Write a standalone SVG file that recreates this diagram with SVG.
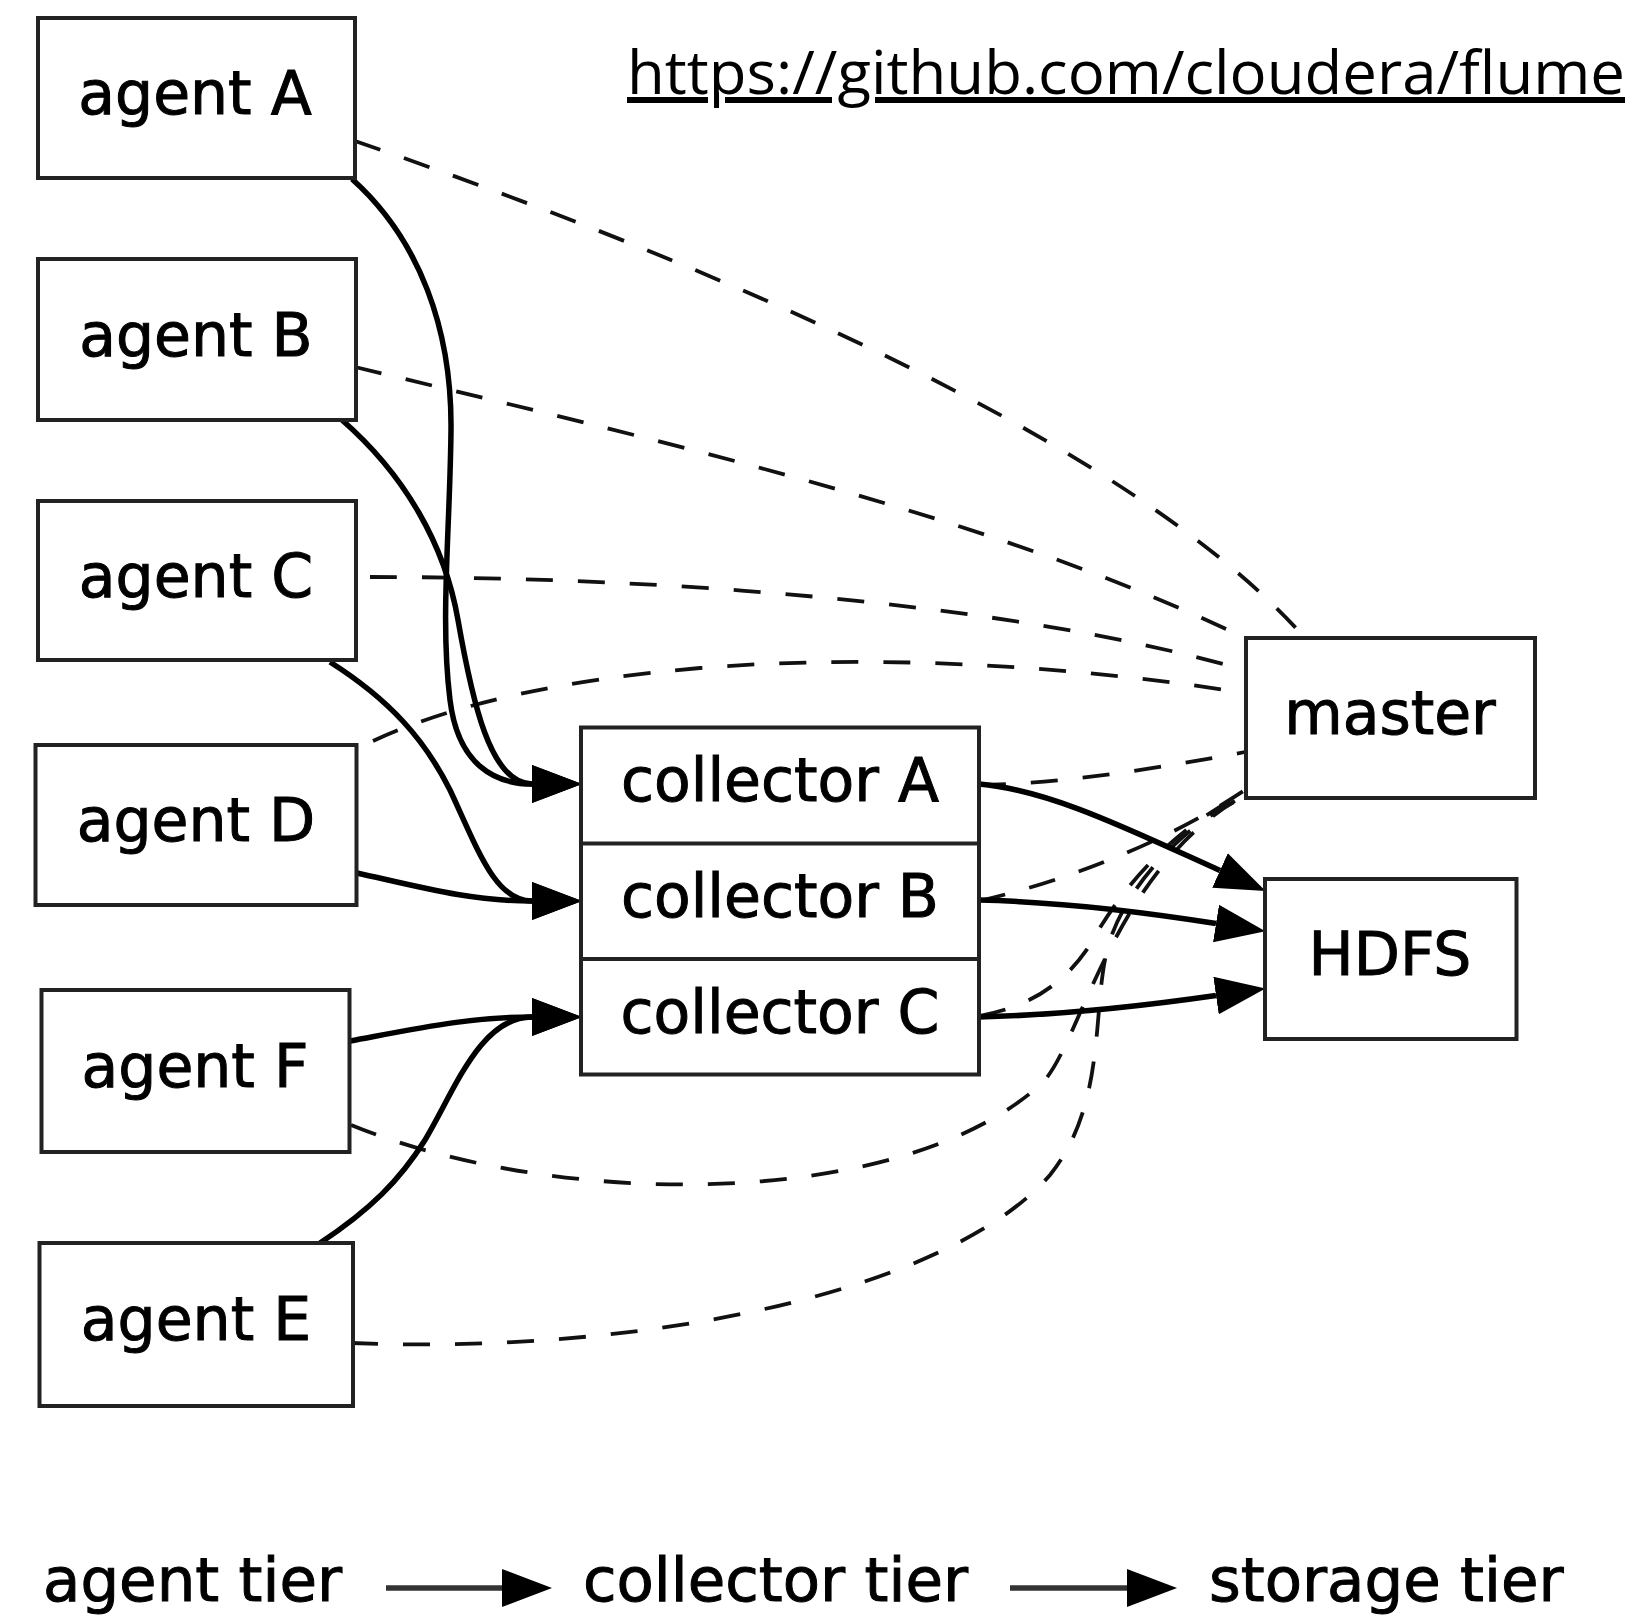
<svg xmlns="http://www.w3.org/2000/svg" width="1637" height="1618" viewBox="0 0 1637 1618">
  <style>
    .box { fill: #ffffff; stroke: #222222; stroke-width: 4; }
    .div { stroke: #222222; stroke-width: 4; }
    .label { font-family: "DejaVu Sans", "Liberation Sans", sans-serif; font-size: 60px; fill: #000; stroke: #000; stroke-width: 1; text-anchor: middle; }
    .legend { font-family: "DejaVu Sans", "Liberation Sans", sans-serif; font-size: 61px; fill: #000; stroke: #000; stroke-width: 1; }
    .flow { fill: none; stroke: #000; stroke-width: 5.5; }
    .ctrl { fill: none; stroke: #111111; stroke-width: 3.8; stroke-dasharray: 27 25; }
    .tier { fill: none; stroke: #333333; stroke-width: 5.5; }
    .url { font-family: "Open Sans", "Liberation Sans", sans-serif; font-size: 60px; fill: #000; }
  </style>
  <defs>
    <marker id="head" markerUnits="userSpaceOnUse" viewBox="0 0 50 38" markerWidth="50" markerHeight="38" refX="0" refY="19" orient="auto">
      <path d="M0,0 L50,19 L0,38 Z" fill="#000"/>
    </marker>
  </defs>

  <rect width="1637" height="1618" fill="#ffffff"/>

  <!-- source link -->
  <text class="url" x="627" y="94" textLength="998" lengthAdjust="spacingAndGlyphs" text-decoration="underline">https://github.com/cloudera/flume</text>

  <!-- connectors: dashed control links to master, solid data flow -->
  <g id="connectors">
    <path class="ctrl" d="M355,141 C 700,260 1130,440 1305,638"/>
    <path class="ctrl" d="M355,367 C 700,450 1000,520 1245,638"/>
    <path class="ctrl" d="M370,577 C 650,577 1000,600 1245,670"/>
    <path class="ctrl" d="M373,741 C 450,705 560,680 700,668 C 900,652 1100,670 1245,693"/>
    <path class="ctrl" d="M979,785 C 1060,784 1160,768 1245,752"/>
    <path class="ctrl" d="M979,901 C 1070,880 1170,840 1245,790"/>
    <path class="ctrl" d="M979,1016 C 1040,1005 1070,975 1090,945 C 1120,890 1170,830 1245,793"/>
    <path class="ctrl" d="M351,1125 C 560,1210 900,1210 1040,1085 C 1080,1050 1110,870 1245,795"/>
    <path class="ctrl" d="M351,1343 C 650,1355 950,1290 1050,1175 C 1110,1100 1090,1000 1110,940 C 1130,880 1190,820 1245,797"/>

    <path class="flow" marker-end="url(#head)" d="M352,179 C 420,240 452,330 451,430 C 450,530 440,620 450,700 C 458,765 495,784 532,784"/>
    <path class="flow" marker-end="url(#head)" d="M342,420 C 405,475 445,545 458,620 C 472,700 490,784 532,784"/>
    <path class="flow" marker-end="url(#head)" d="M330,662 C 390,700 425,740 450,790 C 478,850 495,901 532,901"/>
    <path class="flow" marker-end="url(#head)" d="M357,873 C 420,887 470,901 532,901"/>
    <path class="flow" marker-end="url(#head)" d="M350,1041 C 420,1028 470,1017 532,1017"/>
    <path class="flow" marker-end="url(#head)" d="M320,1243 C 370,1210 400,1180 425,1140 C 455,1090 480,1017 532,1017"/>
    <path class="flow" marker-end="url(#head)" d="M979,784 C 1050,790 1130,830 1220,870.5"/>
    <path class="flow" marker-end="url(#head)" d="M979,900 C 1060,902 1150,913 1216,923.5"/>
    <path class="flow" marker-end="url(#head)" d="M979,1017 C 1060,1015 1150,1005 1216,995.5"/>
  </g>

  <!-- agent tier -->
  <g id="agentA">
    <rect class="box" x="38" y="18" width="317" height="160"/>
    <text class="label" x="195" y="114">agent A</text>
  </g>
  <g id="agentB">
    <rect class="box" x="38" y="259" width="318" height="161"/>
    <text class="label" x="196" y="356">agent B</text>
  </g>
  <g id="agentC">
    <rect class="box" x="38" y="501" width="318" height="159"/>
    <text class="label" x="196" y="597">agent C</text>
  </g>
  <g id="agentD">
    <rect class="box" x="35.5" y="745" width="321" height="160"/>
    <text class="label" x="196" y="841">agent D</text>
  </g>
  <g id="agentF">
    <rect class="box" x="41.5" y="990" width="308" height="162"/>
    <text class="label" x="195" y="1087">agent F</text>
  </g>
  <g id="agentE">
    <rect class="box" x="39.5" y="1243" width="313.5" height="163"/>
    <text class="label" x="196" y="1340">agent E</text>
  </g>

  <!-- collector tier -->
  <g id="collectors">
    <rect class="box" x="581" y="727.5" width="398" height="347"/>
    <line class="div" x1="581" y1="843.5" x2="979" y2="843.5"/>
    <line class="div" x1="581" y1="959" x2="979" y2="959"/>
    <text class="label" x="780" y="801">collector A</text>
    <text class="label" x="780" y="917">collector B</text>
    <text class="label" x="780" y="1033">collector C</text>
  </g>

  <!-- master and storage -->
  <g id="master">
    <rect class="box" x="1246" y="638" width="289" height="160"/>
    <text class="label" x="1390" y="734">master</text>
  </g>
  <g id="hdfs">
    <rect class="box" x="1265" y="879" width="251.5" height="160"/>
    <text class="label" x="1390" y="975">HDFS</text>
  </g>

  <!-- tier legend -->
  <g id="legend">
    <text class="legend" x="43" y="1601">agent tier</text>
    <line class="tier" x1="386" y1="1588" x2="502" y2="1588" marker-end="url(#head)"/>
    <text class="legend" x="583" y="1601">collector tier</text>
    <line class="tier" x1="1010" y1="1588" x2="1127" y2="1588" marker-end="url(#head)"/>
    <text class="legend" x="1209" y="1601">storage tier</text>
  </g>
</svg>
